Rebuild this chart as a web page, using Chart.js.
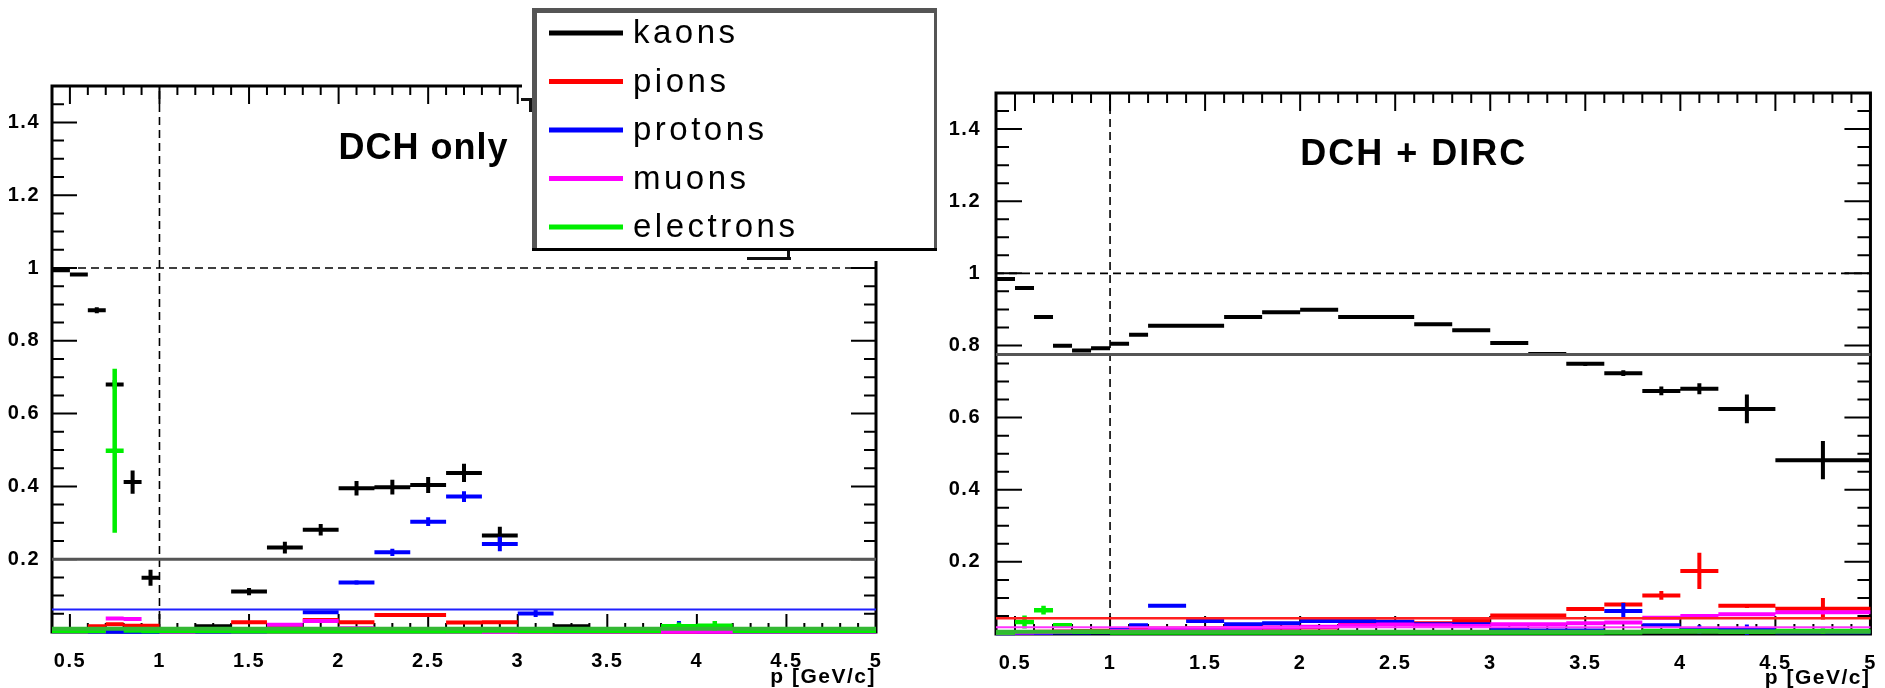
<!DOCTYPE html>
<html>
<head>
<meta charset="utf-8">
<title>Mis-ID fractions vs p</title>
<script src="https://cdn.jsdelivr.net/npm/chart.js@4.4.1/dist/chart.umd.min.js"></script>
<style>
  html, body { margin: 0; padding: 0; background: #fff; }
  body { width: 1885px; height: 688px; position: relative; overflow: hidden; }
  #leftWrap { position: absolute; left: 0; top: 0; width: 940px; height: 688px; }
  #rightWrap { position: absolute; left: 940px; top: 0; width: 945px; height: 688px; }
</style>
</head>
<body>
<div id="rightWrap"><canvas id="rightChart" width="945" height="688"></canvas></div>
<div id="leftWrap"><canvas id="leftChart" width="940" height="688"></canvas></div>
<script>
// ---- Data ----
const species = ['kaons', 'pions', 'protons', 'muons', 'electrons'];
const xTicks = [0.5, 1, 1.5, 2, 2.5, 3, 3.5, 4, 4.5, 5];
const yTicks = [0.2, 0.4, 0.6, 0.8, 1, 1.2, 1.4];

// bin edges, GeV/c
const leftEdges = [0.4, 0.5, 0.6, 0.7, 0.8, 0.9, 1.0, 1.2, 1.4, 1.6, 1.8, 2.0, 2.2, 2.4, 2.6,
    2.8, 3.0, 3.2, 3.4, 3.6, 3.8, 4.0, 4.2, 4.4, 4.6, 4.8, 5.0];
const rightEdges = [0.4, 0.5, 0.6, 0.7, 0.8, 0.9, 1.0, 1.1, 1.2, 1.4, 1.6, 1.8, 2.0, 2.2, 2.4,
    2.6, 2.8, 3.0, 3.2, 3.4, 3.6, 3.8, 4.0, 4.2, 4.5, 5.0];

// DCH only
const leftKaons = [0.994, 0.982, 0.884, 0.680, 0.412, 0.149, 0.006, 0.016, 0.111, 0.232, 0.281, 0.395, 0.398,
    0.404, 0.437, 0.265, 0.004, 0.016, 0.004, 0.003, 0.003, 0.003, 0.003, 0.002, 0.002, 0.002];
const leftKaonsErr = [0.004, 0.004, 0.008, 0.012, 0.032, 0.022, 0.006, 0.004, 0.010, 0.016, 0.016, 0.020, 0.020,
    0.022, 0.025, 0.024, 0.003, 0.004, 0, 0, 0, 0, 0, 0, 0, 0];
const leftPions = [0.002, 0.002, 0.016, 0.021, 0.017, 0.017, 0.003, 0.004, 0.027, 0.012, 0.033, 0.027, 0.047,
    0.047, 0.026, 0.027, 0.002, 0.002, 0.001, 0.001, 0.001, 0.001, 0.001, 0.001, 0.001, 0.001];
const leftPionsErr = [0, 0, 0.003, 0.004, 0.003, 0.003, 0, 0, 0.004, 0.003, 0.004, 0.004, 0.005,
    0.005, 0.004, 0.004, 0, 0, 0, 0, 0, 0, 0, 0, 0, 0];
const leftProtons = [0.001, 0.001, 0.001, 0.001, 0.001, 0.001, 0.001, 0.001, 0.002, 0.003, 0.054, 0.136, 0.219,
    0.303, 0.372, 0.242, 0.051, 0.002, 0.002, 0.002, 0.016, 0.002, 0.001, 0.001, 0.001, 0.001];
const leftProtonsErr = [0, 0, 0, 0, 0, 0, 0, 0, 0, 0, 0.004, 0.006, 0.010,
    0.012, 0.015, 0.020, 0.010, 0, 0, 0, 0.014, 0, 0, 0, 0, 0];
const leftMuons = [0.001, 0.001, 0.002, 0.037, 0.036, 0.003, 0.001, 0.002, 0.004, 0.020, 0.030, 0.010, 0.008,
    0.003, 0.002, 0.001, 0.001, 0.001, 0.001, 0.001, 0.001, 0.001, 0.001, 0.001, 0.001, 0.001];
const leftMuonsErr = [0, 0, 0, 0.004, 0.004, 0, 0, 0, 0, 0.003, 0.004, 0, 0,
    0, 0, 0, 0, 0, 0, 0, 0, 0, 0, 0, 0, 0];
const leftElectrons = [0.002, 0.002, 0.003, 0.498, 0.004, 0.003, 0.003, 0.003, 0.003, 0.003, 0.003, 0.003, 0.003,
    0.003, 0.003, 0.004, 0.003, 0.003, 0.003, 0.003, 0.016, 0.017, 0.003, 0.003, 0.003, 0.003];
const leftElectronsErr = [0, 0, 0, 0.225, 0, 0, 0, 0, 0, 0, 0, 0, 0,
    0, 0, 0, 0, 0, 0, 0, 0.010, 0.013, 0, 0, 0, 0];
// fitted average levels (null = not drawn)
const leftLevels = [0.2, null, 0.062, null, 0.009];

// DCH + DIRC
const rightKaons = [0.984, 0.959, 0.879, 0.799, 0.786, 0.792, 0.805, 0.830, 0.855, 0.855, 0.879, 0.892, 0.899,
    0.879, 0.879, 0.859, 0.842, 0.807, 0.776, 0.749, 0.723, 0.674, 0.680, 0.624, 0.482];
const rightKaonsErr = [0.002, 0.002, 0.002, 0.003, 0.003, 0.003, 0.004, 0.004, 0.003, 0.003, 0.003, 0.003, 0.003,
    0.003, 0.003, 0.004, 0.004, 0.005, 0.005, 0.006, 0.008, 0.012, 0.015, 0.040, 0.053];
const rightPions = [0.004, 0.005, 0.006, 0.007, 0.008, 0.009, 0.012, 0.015, 0.015, 0.016, 0.017, 0.017, 0.018,
    0.026, 0.034, 0.030, 0.036, 0.051, 0.051, 0.069, 0.082, 0.107, 0.175, 0.078, 0.070];
const rightPionsErr = [0, 0, 0, 0, 0, 0, 0, 0, 0.002, 0.002, 0.002, 0.002, 0.002,
    0.003, 0.003, 0.003, 0.003, 0.004, 0.004, 0.005, 0.006, 0.012, 0.050, 0.006, 0.030];
const rightProtons = [0.002, 0.003, 0.003, 0.004, 0.004, 0.005, 0.012, 0.024, 0.078, 0.036, 0.027, 0.030, 0.036,
    0.036, 0.034, 0.027, 0.027, 0.012, 0.010, 0.010, 0.064, 0.024, 0.012, 0.012, 0.005];
const rightProtonsErr = [0, 0, 0, 0, 0, 0, 0.002, 0.002, 0.002, 0.002, 0.002, 0.002, 0.002,
    0.002, 0.002, 0.002, 0.002, 0.003, 0.003, 0.003, 0.022, 0.005, 0.012, 0.014, 0];
const rightMuons = [0.003, 0.004, 0.005, 0.006, 0.006, 0.006, 0.008, 0.010, 0.012, 0.014, 0.016, 0.018, 0.020,
    0.024, 0.026, 0.024, 0.022, 0.027, 0.027, 0.030, 0.032, 0.045, 0.050, 0.055, 0.060];
const rightMuonsErr = [0, 0, 0, 0, 0, 0, 0, 0, 0, 0, 0, 0, 0,
    0, 0, 0, 0, 0, 0, 0, 0, 0.004, 0.004, 0.005, 0.006];
const rightElectrons = [0.004, 0.033, 0.066, 0.024, 0.006, 0.006, 0.004, 0.004, 0.004, 0.004, 0.004, 0.004, 0.004,
    0.004, 0.004, 0.004, 0.004, 0.004, 0.004, 0.004, 0.005, 0.008, 0.008, 0.006, 0.008];
const rightElectronsErr = [0, 0.018, 0.012, 0.004, 0, 0, 0, 0, 0, 0, 0, 0, 0,
    0, 0, 0, 0, 0, 0, 0, 0.006, 0.006, 0, 0, 0.008];
const rightLevels = [0.775, 0.044, null, 0.019, 0.006];

// reference lines
const unitP = 1;
const unitFrac = 1;

// ---- Styles ----
const FONT = '"Liberation Sans", Arial, Helvetica, sans-serif';
const colors = ['#000000', '#ff0000', '#0000ff', '#ff00ff', '#00ee00'];
const levelColors = ['#555555', '#ff2020', '#2020ff', '#ff33ff', '#33b833'];

Chart.defaults.font.family = FONT;
Chart.defaults.font.size = 20;
Chart.defaults.font.weight = 'bold';
Chart.defaults.color = '#000';

// Turn a histogram into line pieces: one flat piece per bin, one vertical error bar
const histPoints = (edges, vals, errs) => {
    const pts = [];
    vals.forEach((v, i) => {
        const lo = edges[i], hi = edges[i + 1], c = (lo + hi) / 2;
        pts.push({ x: lo, y: v }, { x: hi, y: v }, { x: hi, y: null });
        const e = errs[i];
        if (e > 0) pts.push({ x: c, y: v - e }, { x: c, y: v + e }, { x: c, y: null });
    });
    return pts;
};

// ROOT-like frame with inward ticks on all four sides
const rootFrame = {
    id: 'rootFrame',
    beforeDraw(chart) {
        // ROOT text is set a little looser than the canvas default
        chart.ctx.letterSpacing = '1.5px';
    },
    beforeDatasetsDraw(chart, args, o) {
        const { ctx, chartArea: a, scales: { x, y } } = chart;
        ctx.save();
        ctx.strokeStyle = '#000';
        ctx.lineWidth = 2;
        ctx.beginPath();
        for (let k = 4; k <= 50; k++) {
            const px = x.getPixelForValue(k / 10);
            const len = k % 5 === 0 ? o.xMajor : o.xMinor;
            ctx.moveTo(px, a.top); ctx.lineTo(px, a.top + len);
            ctx.moveTo(px, a.bottom); ctx.lineTo(px, a.bottom - len);
        }
        for (let k = 0; k <= 30; k++) {
            const py = y.getPixelForValue(k / 20);
            const len = k % 4 === 0 ? o.yMajor : o.yMinor;
            ctx.moveTo(a.left, py); ctx.lineTo(a.left + len, py);
            ctx.moveTo(a.right, py); ctx.lineTo(a.right - len, py);
        }
        ctx.stroke();
        ctx.lineWidth = 3;
        ctx.strokeRect(a.left, a.top, a.right - a.left, a.bottom - a.top);
        ctx.restore();
    },
    afterDatasetsDraw(chart, args, o) {
        const { ctx, scales: { x, y } } = chart;
        ctx.save();
        ctx.fillStyle = '#000';
        ctx.font = 'bold 36px ' + FONT;
        ctx.letterSpacing = o.labelSpacing;
        ctx.textBaseline = 'alphabetic';
        ctx.fillText(o.label, x.getPixelForValue(o.labelAt[0]), y.getPixelForValue(o.labelAt[1]));
        ctx.restore();
    }
};

// Legend box (drawn on the left panel, over its top-right corner)
const rootLegend = {
    id: 'rootLegend',
    afterDraw(chart) {
        const ctx = chart.ctx;
        ctx.save();
        // the corner of the frame behind the legend is blank in the original
        ctx.fillStyle = '#fff';
        ctx.fillRect(522, 0, 418, 261);
        // bits of the hidden frame that peek out
        ctx.fillStyle = '#111';
        ctx.fillRect(521, 98, 14, 3);
        ctx.fillRect(529, 98, 3, 14);
        ctx.fillRect(747, 257, 44, 3);
        ctx.fillRect(787, 250, 3, 9);
        const L = 535, T = 11, R = 936, B = 249;
        ctx.fillStyle = '#fff';
        ctx.fillRect(L, T, R - L, B - T);
        ctx.fillStyle = '#555';
        ctx.fillRect(L - 3, T - 3, R - L + 3, 5);
        ctx.fillRect(L - 3, T - 3, 5, B - T + 5);
        ctx.fillRect(R - 2, T - 3, 3, B - T + 5);
        ctx.fillStyle = '#000';
        ctx.fillRect(L - 3, B - 1, R - L + 4, 3);
        ctx.font = '33px ' + FONT;
        ctx.letterSpacing = '3.5px';
        ctx.textBaseline = 'alphabetic';
        species.forEach((name, i) => {
            const ly = 33 + i * 48.5;
            ctx.strokeStyle = colors[i];
            ctx.lineWidth = 5;
            ctx.beginPath();
            ctx.moveTo(549, ly); ctx.lineTo(623, ly);
            ctx.stroke();
            ctx.fillStyle = '#000';
            ctx.fillText(name, 633, ly + 10);
        });
        ctx.restore();
    }
};

const makePanel = (canvasId, p) => {
    const datasets = [];
    p.series.forEach((s, i) => {
        datasets.push({
            data: histPoints(p.edges, s[0], s[1]),
            borderColor: colors[i], borderWidth: p.histWidth[i]
        });
    });
    p.levels.forEach((lv, i) => {
        if (lv === null) return;
        datasets.push({
            data: [{ x: 0.4, y: lv }, { x: 5, y: lv }],
            borderColor: levelColors[i], borderWidth: p.levelWidth[i]
        });
    });
    datasets.push({
        data: [{ x: unitP, y: 0 }, { x: unitP, y: 1.5 }, { x: unitP, y: null }, { x: 0.4, y: unitFrac }, { x: 5, y: unitFrac }],
        borderColor: '#000', borderWidth: 1.6, borderDash: [8, 5]
    });
    datasets.forEach((d, i) => {
        Object.assign(d, {
            showLine: true, pointRadius: 0, spanGaps: false, tension: 0,
            borderCapStyle: 'butt', clip: false, order: datasets.length - i
        });
    });
    // dashed guides go underneath everything
    datasets[datasets.length - 1].order = datasets.length + 1;

    const tickFont = { family: FONT, size: 20, weight: 'bold' };
    return new Chart(document.getElementById(canvasId), {
        type: 'scatter',
        data: { datasets },
        plugins: p.plugins,
        options: {
            responsive: false,
            animation: false,
            devicePixelRatio: 1,
            layout: { padding: p.padding },
            plugins: {
                legend: { display: false },
                tooltip: { enabled: false },
                rootFrame: p.frame
            },
            scales: {
                x: {
                    type: 'linear', min: 0.4, max: 5,
                    afterBuildTicks: s => { s.ticks = xTicks.map(v => ({ value: v })); },
                    afterFit: s => { s.height = p.xAxisHeight; },
                    grid: { display: false }, border: { display: false },
                    ticks: { autoSkip: false, maxRotation: 0, padding: p.xLabelPad, color: '#000', font: tickFont,
                        callback: v => String(v) },
                    title: { display: true, text: 'p [GeV/c]', align: 'end', color: '#000',
                        font: { family: FONT, size: 21, weight: 'bold' }, padding: { top: 0, bottom: p.titlePad } }
                },
                y: {
                    type: 'linear', min: 0, max: 1.5,
                    afterBuildTicks: s => { s.ticks = yTicks.map(v => ({ value: v })); },
                    afterFit: s => { s.width = p.yAxisWidth; },
                    grid: { display: false }, border: { display: false },
                    ticks: { padding: p.yLabelPad, color: '#000', font: tickFont, callback: v => String(v) }
                }
            }
        }
    });
};

makePanel('leftChart', {
    edges: leftEdges,
    series: [[leftKaons, leftKaonsErr], [leftPions, leftPionsErr], [leftProtons, leftProtonsErr],
        [leftMuons, leftMuonsErr], [leftElectrons, leftElectronsErr]],
    levels: leftLevels,
    histWidth: [4, 4, 4, 4, 4.5],
    levelWidth: [3, 2, 2, 2, 4],
    padding: { left: 0, top: 86, right: 64, bottom: 0 },
    xAxisHeight: 56, yAxisWidth: 52, xLabelPad: 9, yLabelPad: 4, titlePad: -2,
    frame: { xMajor: 18, xMinor: 9, yMajor: 25, yMinor: 12, label: 'DCH only', labelSpacing: '1px', labelAt: [2.0, 1.3] },
    plugins: [rootFrame, rootLegend]
});

makePanel('rightChart', {
    edges: rightEdges,
    series: [[rightKaons, rightKaonsErr], [rightPions, rightPionsErr], [rightProtons, rightProtonsErr],
        [rightMuons, rightMuonsErr], [rightElectrons, rightElectronsErr]],
    levels: rightLevels,
    histWidth: [4, 4, 4, 4, 4.5],
    levelWidth: [3, 2.5, 2, 2, 4],
    padding: { left: 0, top: 93, right: 3, bottom: 0 },
    xAxisHeight: 54, yAxisWidth: 56, xLabelPad: 9, yLabelPad: 7, titlePad: -3,
    frame: { xMajor: 18, xMinor: 10, yMajor: 26, yMinor: 13, label: 'DCH + DIRC', labelSpacing: '2px', labelAt: [2.0, 1.3] },
    plugins: [rootFrame]
});
</script>
</body>
</html>
